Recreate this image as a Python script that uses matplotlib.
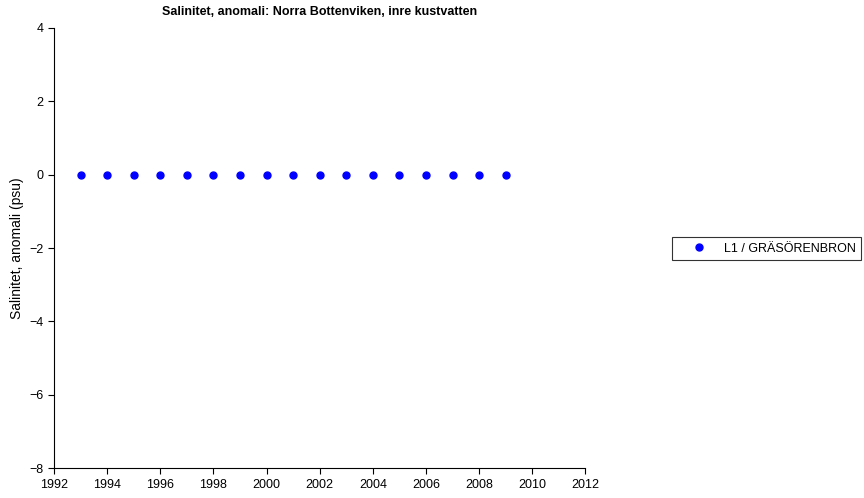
import matplotlib.pyplot as plt

plt.rcParams['font.family'] = ['Liberation Sans', 'DejaVu Sans']

years = [1993, 1994, 1995, 1996, 1997, 1998, 1999, 2000, 2001,
         2002, 2003, 2004, 2005, 2006, 2007, 2008, 2009]
anomaly = [0, 0, 0, 0, 0, 0, 0, 0, 0, 0, 0, 0, 0, 0, 0, 0, 0]
station = "L1 / GRÄSÖRENBRON"

fig = plt.figure(figsize=(8.64, 4.98), dpi=100)
ax = fig.add_axes([0.0625, 0.06, 0.615, 0.884])

ax.plot(years, anomaly, 'o', color='blue', markersize=5, label=station)

ax.set_xlim(1992, 2012)
ax.set_ylim(-8, 4)
ax.set_xticks(range(1992, 2013, 2))
ax.set_yticks(range(-8, 5, 2))
ax.spines['top'].set_visible(False)
ax.spines['right'].set_visible(False)
ax.tick_params(labelsize=9, length=4, width=0.8)
ax.set_ylabel("Salinitet, anomali (psu)", fontsize=10)
ax.set_title("Salinitet, anomali: Norra Bottenviken, inre kustvatten",
             fontsize=9, fontweight='bold', pad=9)

leg = fig.legend(loc='center left', bbox_to_anchor=(0.7705, 0.501), fontsize=9,
                 frameon=True, fancybox=False, edgecolor='black',
                 borderpad=0.45, handlelength=3.4, handletextpad=0.3)
leg.get_frame().set_linewidth(0.8)

fig.savefig("out.png", dpi=100)
